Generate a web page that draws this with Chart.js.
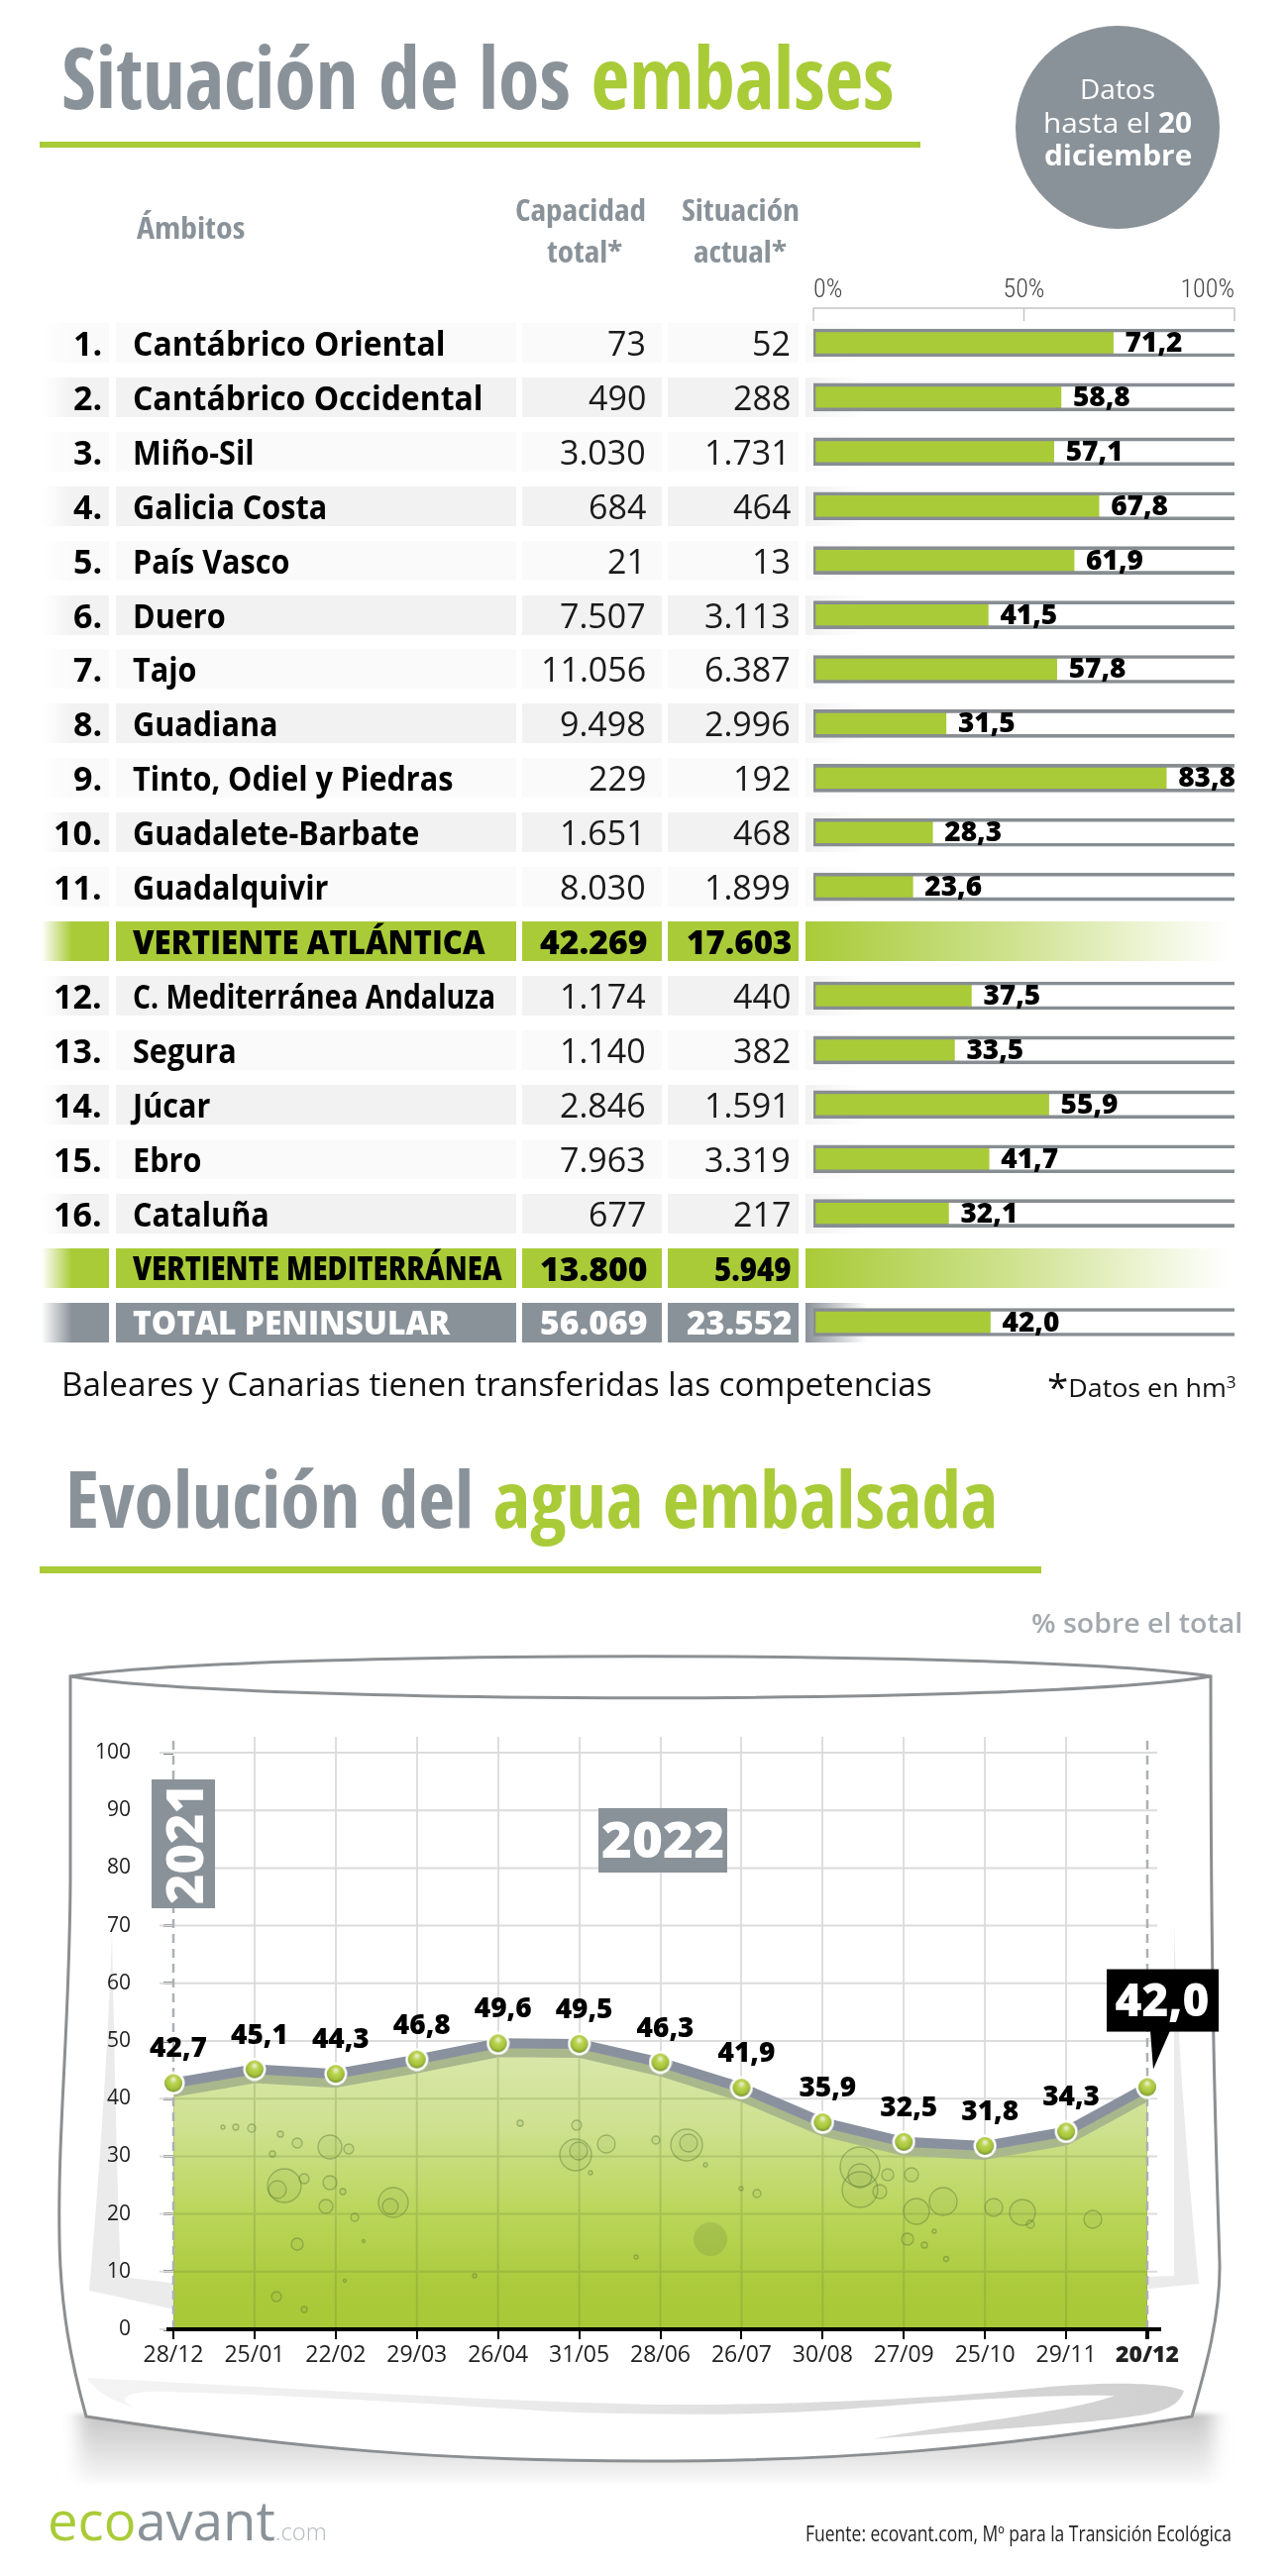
<!doctype html>
<html><head><meta charset="utf-8">
<script src="https://cdn.jsdelivr.net/npm/chart.js@4"></script>
<style>
html,body{margin:0;background:#fff}
#page{position:relative;width:1300px;height:2600px;overflow:hidden;font-family:'Open Sans',sans-serif}
.t{position:absolute;white-space:nowrap;z-index:5;line-height:1}
.b{position:absolute;z-index:1}
canvas{position:absolute;z-index:2}
svg{position:absolute;left:0;top:0}
</style></head><body><div id="page">
<svg id="glass" width="1300" height="2600" style="z-index:0">
<defs>
<filter id="bl" x="-5%" y="-20%" width="110%" height="140%"><feGaussianBlur stdDeviation="9 2"/></filter>
<linearGradient id="shade" x1="0" y1="0" x2="0" y2="1"><stop offset="0" stop-color="#c4c4c4"/><stop offset=".55" stop-color="#e2e2e2"/><stop offset=".92" stop-color="#f6f6f6"/><stop offset="1" stop-color="#fff"/></linearGradient>
<linearGradient id="swoosh" x1="0" y1="0" x2="1" y2="0"><stop offset="0" stop-color="#f4f4f4"/><stop offset=".4" stop-color="#ebebeb"/><stop offset=".7" stop-color="#dadada"/><stop offset="1" stop-color="#d0d0d0"/></linearGradient>
</defs>
<rect x="80" y="2436" width="1145" height="72" fill="url(#shade)" filter="url(#bl)"/>
<path d="M71 1692 L71 1900 C70 2050 58 2150 60 2260 C61 2330 72 2385 87 2439 C300 2472 450 2484 650 2484 C850 2484 1000 2472 1203 2439 C1214 2400 1232 2340 1231 2285 C1228 2180 1222 2050 1222 1692Z" fill="#fff" stroke="#8c8f92" stroke-width="3"/>
<path d="M71 1692 C250 1665 1050 1665 1222 1692 C1050 1721 250 1721 71 1692Z" fill="#fff" stroke="#8c8f92" stroke-width="3"/>
<path d="M113 1950 C110 2050 100 2200 90 2312 C120 2318 150 2325 180 2332 L180 2305 L122 2298 C118 2200 115 2050 113 1950Z" fill="#ebebeb"/>
<path d="M1185 1940 C1188 2060 1200 2200 1210 2305 L1100 2316 L1100 2300 L1185 2297Z" fill="#ebebeb"/>
<path d="M88 2400 C250 2408 500 2424 660 2427 C800 2428 960 2420 1050 2410 C1100 2405 1170 2403 1195 2413 C1190 2428 1175 2434 1150 2438 C1100 2446 1000 2452 880 2462 C950 2448 1080 2435 1125 2418 C1060 2416 945 2424 850 2432 C760 2438 660 2438 560 2434 C400 2424 300 2418 170 2414 C130 2412 115 2420 135 2430 C110 2422 95 2412 88 2400Z" fill="url(#swoosh)"/>
</svg>
<svg id="bubbles" width="1300" height="2600" style="z-index:3" fill="rgba(110,140,70,.07)" stroke="rgba(85,115,55,.42)" stroke-width="1.3">
<circle cx="225" cy="2147" r="2"/><circle cx="238" cy="2147" r="3"/><circle cx="254" cy="2148" r="4"/><circle cx="283" cy="2154" r="3"/><circle cx="300" cy="2163" r="5"/><circle cx="333" cy="2167" r="12"/><circle cx="352" cy="2169" r="5"/><circle cx="275" cy="2174" r="3"/><circle cx="287" cy="2206" r="17"/><circle cx="280" cy="2210" r="9"/><circle cx="307" cy="2199" r="5"/><circle cx="333" cy="2203" r="7"/><circle cx="329" cy="2227" r="7"/><circle cx="346" cy="2212" r="3"/><circle cx="358" cy="2238" r="4"/><circle cx="397" cy="2223" r="15"/><circle cx="394" cy="2227" r="8"/><circle cx="300" cy="2265" r="6"/><circle cx="279" cy="2318" r="5"/><circle cx="307" cy="2331" r="3"/><circle cx="367" cy="2262" r="1.5"/><circle cx="348" cy="2302" r="1.5"/><circle cx="479" cy="2297" r="2"/><circle cx="525" cy="2143" r="3"/><circle cx="582" cy="2145" r="5"/><circle cx="581" cy="2175" r="16"/><circle cx="584" cy="2171" r="9"/><circle cx="612" cy="2164" r="9"/><circle cx="596" cy="2193" r="2"/><circle cx="662" cy="2160" r="4"/><circle cx="693" cy="2165" r="16"/><circle cx="695" cy="2163" r="9"/><circle cx="712" cy="2185" r="2"/><circle cx="717" cy="2260" r="17" stroke="none" fill="rgba(95,125,60,.2)"/><circle cx="748" cy="2209" r="2"/><circle cx="764" cy="2214" r="4"/><circle cx="642" cy="2278" r="2"/><circle cx="868" cy="2187" r="20"/><circle cx="868" cy="2196" r="12"/><circle cx="868" cy="2210" r="18"/><circle cx="896" cy="2195" r="6"/><circle cx="888" cy="2212" r="7"/><circle cx="920" cy="2195" r="7"/><circle cx="925" cy="2232" r="13"/><circle cx="952" cy="2222" r="14"/><circle cx="1003" cy="2228" r="9"/><circle cx="1032" cy="2233" r="13"/><circle cx="1040" cy="2245" r="4"/><circle cx="1103" cy="2240" r="9"/><circle cx="916" cy="2260" r="6"/><circle cx="933" cy="2266" r="3"/><circle cx="943" cy="2252" r="2"/><circle cx="955" cy="2280" r="2.5"/>
</svg>
<canvas id="bars" width="600" height="1092" style="left:700px;top:270px;width:600px;height:1092px"></canvas>
<canvas id="line" width="1300" height="720" style="left:0;top:1700px;width:1300px;height:720px"></canvas>
</div>
<script>
// ---------- data ----------
const rowLabels=['Cantábrico Oriental','Cantábrico Occidental','Miño-Sil','Galicia Costa','País Vasco','Duero','Tajo','Guadiana','Tinto, Odiel y Piedras','Guadalete-Barbate','Guadalquivir','VERTIENTE ATLÁNTICA','C. Mediterránea Andaluza','Segura','Júcar','Ebro','Cataluña','VERTIENTE MEDITERRÁNEA','TOTAL PENINSULAR'];
const rowNumbers=['1.','2.','3.','4.','5.','6.','7.','8.','9.','10.','11.','','12.','13.','14.','15.','16.','',''];
const capacity=[73,490,3030,684,21,7507,11056,9498,229,1651,8030,42269,1174,1140,2846,7963,677,13800,56069];
const actual=[52,288,1731,464,13,3113,6387,2996,192,468,1899,17603,440,382,1591,3319,217,5949,23552];
const percent=[71.2,58.8,57.1,67.8,61.9,41.5,57.8,31.5,83.8,28.3,23.6,null,37.5,33.5,55.9,41.7,32.1,null,42.0];
const trackFull=[100,100,100,100,100,100,100,100,100,100,100,null,100,100,100,100,100,null,100];
const dates=['28/12','25/01','22/02','29/03','26/04','31/05','28/06','26/07','30/08','27/09','25/10','29/11','20/12'];
const evolution=[42.7,45.1,44.3,46.8,49.6,49.5,46.3,41.9,35.9,32.5,31.8,34.3,42.0];

// ---------- helpers ----------
const GREEN='#a9cb38',GREY='#8a9299',FF='"Open Sans",sans-serif',CF='"Open Sans Condensed","Open Sans",sans-serif';
const page=document.getElementById('page');
const comma=v=>v.toFixed(1).replace('.',',');
const thousands=v=>String(v).replace(/\B(?=(\d{3})+$)/g,'.');
function put(html,o){
  const e=document.createElement('span');e.className='t';e.innerHTML=html;
  e.style.cssText+=`font-size:${o.size}px;font-weight:${o.weight||400};color:${o.color||'#111'};`+(o.family?`font-family:${o.family.replace(/"/g,"'")};`:'');
  page.appendChild(e);
  const n=e.offsetWidth,k=o.k||(o.w?o.w/n:1),W=n*k;
  const left=o.x!=null?o.x:(o.right!=null?o.right-W:o.center-W/2);
  e.style.left=left+'px';e.style.top=(o.y-o.size*.531)+'px';
  e.style.transformOrigin='left center';e.style.transform=`scaleX(${k})`;
  return e;
}
function box(x,y,w,h,bg){const e=document.createElement('div');e.className='b';e.style.cssText+=`left:${x}px;top:${y}px;width:${w}px;height:${h}px;background:${bg}`;page.appendChild(e);return e;}

// ---------- bars chart ----------
const rulerPlugin={id:'ruler',afterDraw(c){
  const x=c.scales.x,ctx=c.ctx,y0=c.chartArea.top-7.5;
  ctx.save();ctx.strokeStyle='#c4c4c4';ctx.lineWidth=1.5;ctx.beginPath();
  ctx.moveTo(x.getPixelForValue(0),y0);ctx.lineTo(x.getPixelForValue(100),y0);
  x.ticks.forEach(t=>{const p=x.getPixelForValue(t.value);ctx.moveTo(p,y0);ctx.lineTo(p,y0+13);});
  ctx.stroke();ctx.restore();
}};
const barLabels={id:'barLabels',afterDatasetsDraw(c){
  const ctx=c.ctx,meta=c.getDatasetMeta(0);
  ctx.save();ctx.font='800 28px '+FF;ctx.fillStyle='#000';ctx.textBaseline='middle';ctx.textAlign='left';
  meta.data.forEach((b,i)=>{if(percent[i]!=null)ctx.fillText(comma(percent[i]),b.x+12,b.y+1);});
  ctx.restore();
}};
const barChart=new Chart(document.getElementById('bars'),{
  type:'bar',
  data:{labels:rowLabels,datasets:[
    {data:percent,backgroundColor:GREEN,barThickness:25,grouped:false,order:2,borderWidth:0},
    {data:trackFull,backgroundColor:'rgba(0,0,0,0)',borderColor:'#888d92',borderWidth:{top:3,bottom:3,left:2,right:0},borderSkipped:false,barThickness:28,grouped:false,order:1}
  ]},
  options:{indexAxis:'y',responsive:false,animation:false,events:[],
    layout:{padding:{left:121,right:54,top:0,bottom:0}},
    plugins:{legend:{display:false},tooltip:{enabled:false}},
    scales:{
      x:{position:'top',min:0,max:100,afterFit(s){s.height=48.5;},
        grid:{display:false,drawTicks:false},border:{display:false},
        ticks:{stepSize:50,align:'inner',padding:9,maxRotation:0,color:'#444',font:{family:'"Roboto Condensed","Open Sans"',size:26,weight:'300'},callback:v=>v+'%'}},
      y:{display:false,offset:true}
    }},
  plugins:[rulerPlugin,barLabels]
});

// ---------- table ----------
const ys=rowLabels.map((_,i)=>270+barChart.scales.y.getPixelForTick(i));
rowLabels.forEach((name,i)=>{
  const c=ys[i],top=c-20,kind=name.startsWith('VERTIENTE')?'g':name.startsWith('TOTAL')?'t':'n';
  const dark=rowNumbers[i]&&parseInt(rowNumbers[i])%2===0;
  const bg=kind==='g'?GREEN:kind==='t'?GREY:(dark?'#f2f2f2':'#fafafa');
  box(42,top,68,40,`linear-gradient(to right,rgba(255,255,255,0),${bg} 45%)`);
  box(117,top,404,40,bg);box(527,top,141,40,bg);box(674,top,132,40,bg);
  if(kind==='g')box(813,top,427,40,`linear-gradient(to right,${GREEN},rgba(169,203,56,.55) 50%,rgba(169,203,56,0))`);
  else box(813,top,62,40,`linear-gradient(to right,${bg},rgba(255,255,255,0))`);
  const col=kind==='t'?'#fff':'#000',y=c+1;
  if(rowNumbers[i])put(rowNumbers[i],{right:103,y,size:34,weight:700,color:'#000'});
  if(kind==='n'){
    const w={'Cantábrico Oriental':316,'Cantábrico Occidental':354,'C. Mediterránea Andaluza':366}[name];
    put(name,{x:134,y,size:34,weight:700,color:'#000',k:w?null:.9,w});
    put(thousands(capacity[i]),{right:652,y,size:34,color:'#1a1a1a'});
    put(thousands(actual[i]),{right:798,y,size:34,color:'#1a1a1a'});
  }else{
    const w={'VERTIENTE ATLÁNTICA':356,'VERTIENTE MEDITERRÁNEA':373,'TOTAL PENINSULAR':320}[name];
    put(name,{x:134,y,size:33,weight:800,color:col,w});
    put(thousands(capacity[i]),{right:653,y,size:34,weight:800,color:col,w:108});
    put(thousands(actual[i]),{right:799,y,size:34,weight:800,color:col,w:thousands(actual[i]).length>5?106:78});
  }
});

// ---------- headings and notes ----------
put(`Situación de los <span style="color:${GREEN}">embalses</span>`,{x:62,y:79,size:87,weight:700,family:CF,color:GREY,w:841});
box(40,143,889,6,GREEN);
const circle=box(1025,26,206,205,GREY);circle.style.borderRadius='50%';
put('Datos',{center:1128,y:90,size:28,color:'#fff'});
put('hasta el <b>20</b>',{center:1128,y:124,size:28,color:'#fff',w:150});
put('diciembre',{center:1128,y:157,size:28,weight:700,color:'#fff',w:149});
put('Ámbitos',{x:138,y:231,size:30,weight:700,family:CF,color:GREY,w:109});
put('Capacidad',{center:586,y:213,size:30,weight:700,family:CF,color:GREY,w:132});
put('total*',{center:590,y:255,size:30,weight:700,family:CF,color:GREY,w:76});
put('Situación',{center:747,y:213,size:30,weight:700,family:CF,color:GREY,w:119});
put('actual*',{center:747,y:255,size:30,weight:700,family:CF,color:GREY,w:94});
put('Baleares y Canarias tienen transferidas las competencias',{x:62,y:1398,size:32,color:'#111',w:879});
put('<span style="font-size:36px;line-height:0;vertical-align:-3px">*</span>Datos en hm<sup style="font-size:16px;line-height:0">3</sup>',{x:1057,y:1401,size:25,color:'#111',w:191});
put(`Evolución del <span style="color:${GREEN}">agua embalsada</span>`,{x:66,y:1513,size:80,weight:700,family:CF,color:GREY,w:941});
box(40,1581,1011,7,GREEN);
put('% sobre el total',{right:1254,y:1638,size:27,weight:600,color:'#a2a8ae',w:213});

// ---------- line chart ----------
const ball=document.createElement('canvas');ball.width=ball.height=24;
(()=>{const g=ball.getContext('2d');g.fillStyle='#fff';g.beginPath();g.arc(12,12,11.5,0,7);g.fill();
  const r=g.createRadialGradient(12,8,1,12,11,10);r.addColorStop(0,'#e6ecc8');r.addColorStop(.3,'#bdd552');r.addColorStop(.75,'#a4c23a');r.addColorStop(1,'#6e8b2a');
  g.fillStyle=r;g.beginPath();g.arc(12,12,9,0,7);g.fill();})();

const areaFill=ctx=>{const {chart}=ctx,a=chart.chartArea;if(!a)return GREEN;
  const g=chart.ctx.createLinearGradient(0,a.top+300,0,a.bottom);
  g.addColorStop(0,'#dbe9b0');g.addColorStop(.3,'#cfe192');g.addColorStop(.62,'#bad558');g.addColorStop(.85,'#acca3c');g.addColorStop(1,'#a9c936');return g;};

const lineDecor={id:'lineDecor',
  beforeDatasetsDraw(c){
    const y=c.scales.y,a=c.chartArea,ctx=c.ctx;
    ctx.save();ctx.strokeStyle='#dcdcdc';ctx.lineWidth=2;ctx.beginPath();
    y.ticks.forEach(t=>{const p=y.getPixelForValue(t.value);ctx.moveTo(a.left-14,p);ctx.lineTo(a.right+10,p);});
    ctx.stroke();ctx.restore();
  },
  beforeDatasetDraw(c,args){
    const s=c.data.datasets[args.index].shiftDown;
    if(s){const a=c.chartArea,ctx=c.ctx;ctx.save();ctx.beginPath();ctx.rect(a.left,a.top,a.width,a.height);ctx.clip();ctx.translate(0,s);}
  },
  afterDatasetDraw(c,args){
    const ds=c.data.datasets[args.index],s=ds.shiftDown;if(!s)return;
    const ctx=c.ctx,a=c.chartArea;
    if(ds.fill){
      const pts=c.getDatasetMeta(args.index).data;
      ctx.save();ctx.beginPath();ctx.moveTo(pts[0].x,pts[0].y);pts.forEach(p=>ctx.lineTo(p.x,p.y));
      ctx.lineTo(pts[pts.length-1].x,a.bottom);ctx.lineTo(pts[0].x,a.bottom);ctx.closePath();ctx.clip();
      ctx.strokeStyle='rgba(105,125,60,.24)';ctx.lineWidth=2;ctx.beginPath();
      c.scales.y.ticks.forEach(t=>{const p=c.scales.y.getPixelForValue(t.value)-s;ctx.moveTo(a.left,p);ctx.lineTo(a.right,p);});
      c.scales.x.ticks.forEach((t,i)=>{const p=c.scales.x.getPixelForTick(i);ctx.moveTo(p,a.top);ctx.lineTo(p,a.bottom);});
      ctx.stroke();ctx.restore();
    }
    ctx.restore();
    if(ds.fill){
      ctx.save();ctx.strokeStyle='#adb0b4';ctx.lineWidth=2.5;ctx.setLineDash([9,6]);ctx.beginPath();
      [0,dates.length-1].forEach(i=>{const p=c.scales.x.getPixelForTick(i);ctx.moveTo(p,a.top+4);ctx.lineTo(p,a.bottom);});
      ctx.stroke();ctx.restore();
    }
  },
  afterDatasetsDraw(c){
    const ctx=c.ctx,a=c.chartArea,pts=c.getDatasetMeta(2).data;
    ctx.save();ctx.strokeStyle='#000';ctx.lineWidth=4;ctx.beginPath();ctx.moveTo(a.left-7,a.bottom);ctx.lineTo(a.right+14,a.bottom);ctx.stroke();
    ctx.font='800 28px '+FF;ctx.fillStyle='#000';ctx.textAlign='center';ctx.textBaseline='alphabetic';
    pts.forEach((p,i)=>{if(i<pts.length-1)ctx.fillText(comma(evolution[i]),p.x+5,p.y-26);});
    const p=pts[pts.length-1],top=p.y-119,bot=p.y-56;
    ctx.fillStyle='#000';ctx.fillRect(p.x-41,top,113,bot-top);
    ctx.beginPath();ctx.moveTo(p.x+3,bot-1);ctx.lineTo(p.x+23,bot-1);ctx.lineTo(p.x+6,p.y-18);ctx.closePath();ctx.fill();
    ctx.font='800 46px '+FF;ctx.fillStyle='#fff';ctx.fillText(comma(evolution[evolution.length-1]),p.x+15,p.y-72);
    ctx.restore();
  }
};
new Chart(document.getElementById('line'),{
  type:'line',
  data:{labels:dates,datasets:[
    {data:evolution,order:3,shiftDown:14,fill:'origin',backgroundColor:areaFill,borderWidth:0,pointRadius:0,tension:0},
    {data:evolution,order:2,shiftDown:9,fill:false,borderColor:'#a9b78c',borderWidth:10,pointRadius:0,tension:0,borderJoinStyle:'round'},
    {data:evolution,order:1,fill:false,borderColor:'#8a919e',borderWidth:10,tension:0,borderJoinStyle:'round',pointStyle:ball,pointRadius:12}
  ]},
  options:{responsive:false,animation:false,events:[],
    layout:{padding:{left:75,right:142,top:53,bottom:9}},
    plugins:{legend:{display:false},tooltip:{enabled:false}},
    scales:{
      x:{afterFit(s){s.height=60;},border:{display:false},
        grid:{color:c=>(c.index===0||c.index===dates.length-1)?'rgba(0,0,0,0)':'#dedede',lineWidth:2,tickColor:'#000',tickLength:10,tickWidth:c=>c.index===dates.length-1?4:2},
        ticks:{autoSkip:false,maxRotation:0,padding:3,color:'#222',font:c=>({family:FF,size:23,weight:c.index===dates.length-1?'800':'400'})}},
      y:{min:0,max:102.75,afterFit(s){s.width=100;},border:{display:false},
        grid:{drawOnChartArea:false,tickLength:33,tickColor:'#000',tickWidth:2,tickBorderDash:[0,23,10,200]},
        ticks:{stepSize:10,includeBounds:false,padding:10,color:'#222',font:{family:FF,size:21}}}
    }},
  plugins:[lineDecor]
});

// ---------- year tags ----------
box(153,1796,64,130,GREY).style.zIndex=4;
const y21=put('2021',{center:185,y:1863,size:52,weight:800,color:'#fff'});y21.style.transform='rotate(-90deg)';y21.style.transformOrigin='center';
box(604,1825,130,65,GREY).style.zIndex=4;
put('2022',{center:669,y:1858,size:50,weight:800,color:'#fff',w:124});

// ---------- footer ----------
put('Fuente: ecovant.com, Mº para la Transición Ecológica',{right:1243,y:2558,size:21,weight:500,color:'#222',w:430});
put(`<span style="color:${GREEN}">eco</span><span style="color:${GREY}">avant</span><span style="color:#b4b9bd;font-size:24px;font-weight:300">.com</span>`,{x:48,y:2544,size:55,weight:400,w:282});
</script></body></html>
